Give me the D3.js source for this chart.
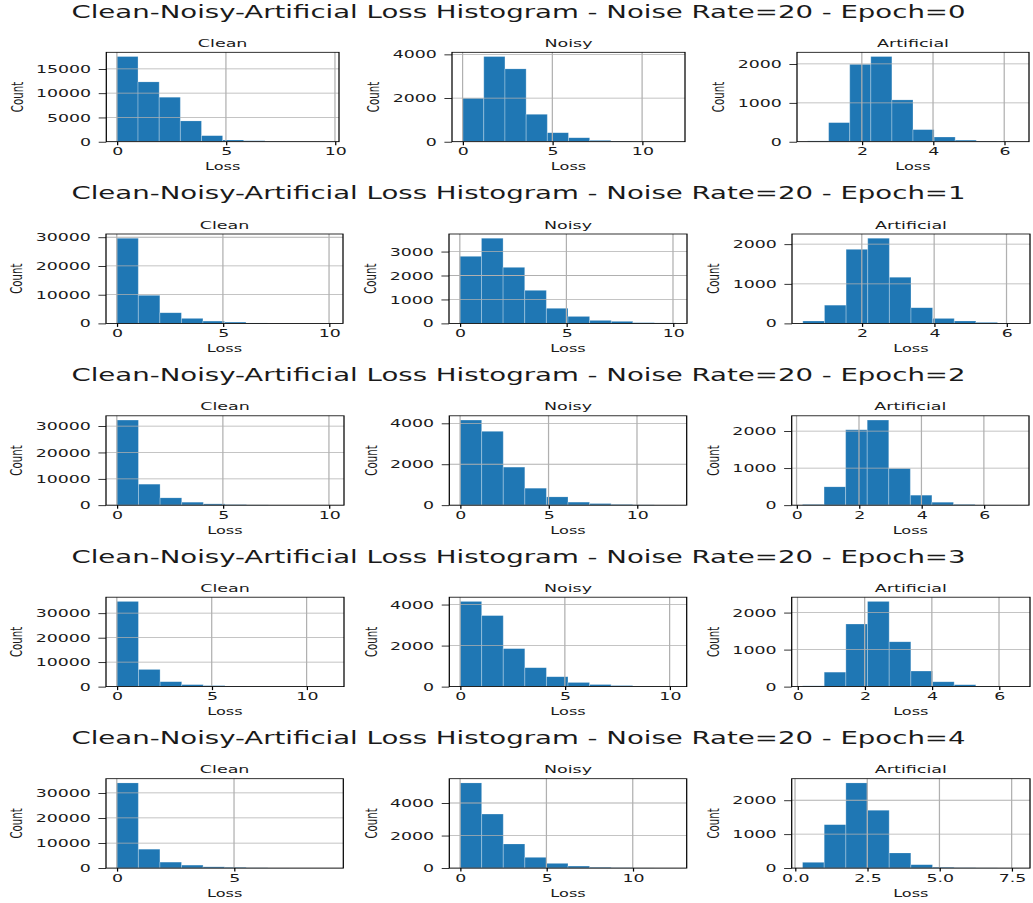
<!DOCTYPE html>
<html>
<head>
<meta charset="utf-8">
<script src="https://cdn.jsdelivr.net/npm/d3@7"></script>
<style>
  html, body { margin: 0; padding: 0; background: #fff; }
  svg { display: block; }
  text { font-family: "DejaVu Sans", sans-serif; fill: #1a1a1a; }
</style>
</head>
<body>
<svg id="chart" width="1033" height="903"></svg>
<script>
// ---- data ----
let epochs = [0, 1, 2, 3, 4];
let panels = ['Clean', 'Noisy', 'Artificial'];
let noiseRate = 20;

// [min, max] of the loss values per epoch, 10 equal bins between them
let cleanRange = [[0, 9.7], [0, 10.15], [0, 10.2], [0, 11.4], [0, 9.2]];
let noisyRange = [[0, 11.8], [0, 10.15], [0, 12.2], [0, 10.3], [0, 12.5]];
let artRange = [[0.475, 6.4], [0.37, 6.35], [0.19, 7.1], [0.15, 6.6], [0.26, 7.76]];

let cleanCounts = [
    [17560, 12330, 9170, 4280, 1240, 350, 200, 50, 20, 5],
    [29650, 9770, 3700, 1740, 800, 450, 150, 60, 20, 10],
    [32280, 7970, 2780, 1140, 500, 220, 100, 40, 15, 5],
    [34800, 7000, 2000, 800, 400, 200, 100, 40, 15, 5],
    [33970, 7540, 2380, 1190, 500, 300, 100, 40, 15, 5]
];
let noisyCounts = [
    [1990, 3900, 3335, 1255, 410, 180, 60, 30, 10, 5],
    [2800, 3555, 2340, 1380, 630, 290, 125, 85, 30, 20],
    [4160, 3610, 1860, 830, 405, 150, 80, 35, 15, 5],
    [4150, 3460, 1850, 920, 480, 200, 100, 50, 20, 10],
    [5230, 3320, 1480, 660, 290, 125, 50, 20, 8, 3]
];
let artCounts = [
    [20, 490, 1990, 2190, 1075, 310, 120, 40, 15, 5],
    [60, 460, 1870, 2150, 1165, 395, 125, 60, 25, 5],
    [20, 495, 2035, 2297, 990, 270, 80, 20, 5, 3],
    [20, 390, 1690, 2300, 1210, 420, 130, 50, 15, 5],
    [170, 1280, 2510, 1705, 445, 100, 25, 10, 5, 2]
];

// tick labels
let cleanXTicks = [[0, 5, 10], [0, 5, 10], [0, 5, 10], [0, 5, 10], [0, 5]];
let noisyXTicks = [[0, 5, 10], [0, 5, 10], [0, 5, 10], [0, 5, 10], [0, 5, 10]];
let artXTicks = [[2, 4, 6], [2, 4, 6], [0, 2, 4, 6], [0, 2, 4, 6], [0, 2.5, 5, 7.5]];
let cleanYTicks = [[0, 5000, 10000, 15000], [0, 10000, 20000, 30000], [0, 10000, 20000, 30000], [0, 10000, 20000, 30000], [0, 10000, 20000, 30000]];
let noisyYTicks = [[0, 2000, 4000], [0, 1000, 2000, 3000], [0, 2000, 4000], [0, 2000, 4000], [0, 2000, 4000]];
let artYTicks = [[0, 1000, 2000], [0, 1000, 2000], [0, 1000, 2000], [0, 1000, 2000], [0, 1000, 2000]];

// ---- layout (screen pixels) ----
let stretch = 1.55; // picture is wider than tall in its glyphs
let rowTop = [52.3, 234, 415.8, 597.2, 778.7];
let axH = 89.4;
let colLeft = [[106.3, 452, 797], [106, 449, 792], [106, 449.3, 791.7], [106, 449.3, 791.7], [106, 449.3, 791.7]];
let colRight = [[339, 685, 1029], [343, 687, 1030], [344, 686.7, 1029], [344, 686.7, 1030], [343.3, 686.7, 1030]];

let svg = d3.select('#chart');
let root = svg.append('g').attr('transform', 'scale(' + stretch + ',1)');

let ranges = [cleanRange, noisyRange, artRange];
let counts = [cleanCounts, noisyCounts, artCounts];
let xTicks = [cleanXTicks, noisyXTicks, artXTicks];
let yTicks = [cleanYTicks, noisyYTicks, artYTicks];

let fmtX = (ticks) => {
    let decimals = ticks.some((t) => t % 1 !== 0);
    return (d) => decimals ? d.toFixed(1) : String(d);
};

epochs.forEach((epoch, r) => {
    root.append('text')
        .attr('x', 518.5 / stretch)
        .attr('y', rowTop[r] - 34.5)
        .attr('text-anchor', 'middle')
        .attr('font-size', 17.8)
        .text('Clean-Noisy-Artificial Loss Histogram - Noise Rate=' + noiseRate + ' - Epoch=' + epoch);

    panels.forEach((name, c) => {
        let lo = ranges[c][r][0],
            hi = ranges[c][r][1],
            vals = counts[c][r],
            bw = (hi - lo) / vals.length,
            pad = (hi - lo) * 0.05,
            top = rowTop[r],
            bottom = rowTop[r] + axH,
            left = colLeft[r][c] / stretch,
            right = colRight[r][c] / stretch;

        let x = d3.scaleLinear().domain([lo - pad, hi + pad]).range([left, right]);
        let y = d3.scaleLinear().domain([0, d3.max(vals) * 1.05]).range([bottom, top]);

        let bins = vals.map((v, i) => ({ x0: lo + i * bw, x1: lo + (i + 1) * bw, n: v }));

        let g = root.append('g');

        g.selectAll('rect.bar')
            .data(bins)
            .join('rect')
            .attr('class', 'bar')
            .attr('x', (d) => x(d.x0))
            .attr('width', (d) => x(d.x1) - x(d.x0))
            .attr('y', (d) => y(d.n))
            .attr('height', (d) => y(0) - y(d.n))
            .attr('fill', '#1f77b4')
            .attr('stroke', '#ffffff')
            .attr('stroke-opacity', 0.3)
            .attr('stroke-width', 0.6);

        // grid (sits above the bars, like matplotlib)
        g.selectAll('line.vgrid')
            .data(xTicks[c][r])
            .join('line')
            .attr('x1', (d) => x(d)).attr('x2', (d) => x(d))
            .attr('y1', top).attr('y2', bottom)
            .attr('stroke', '#b0b0b0').attr('stroke-width', 0.8);
        g.selectAll('line.hgrid')
            .data(yTicks[c][r])
            .join('line')
            .attr('x1', left).attr('x2', right)
            .attr('y1', (d) => y(d)).attr('y2', (d) => y(d))
            .attr('stroke', '#b0b0b0').attr('stroke-width', 0.8);

        g.append('rect')
            .attr('x', left).attr('y', top)
            .attr('width', right - left).attr('height', axH)
            .attr('fill', 'none').attr('stroke', '#000').attr('stroke-width', 0.8);

        let xAxis = g.append('g')
            .attr('transform', 'translate(0,' + bottom + ')')
            .call(d3.axisBottom(x).tickValues(xTicks[c][r]).tickFormat(fmtX(xTicks[c][r]))
                .tickSize(3.5).tickPadding(2.2));
        let yAxis = g.append('g')
            .attr('transform', 'translate(' + left + ',0)')
            .call(d3.axisLeft(y).tickValues(yTicks[c][r]).tickFormat((d) => String(d))
                .tickSize(4.9).tickPadding(4.9));

        [xAxis, yAxis].forEach((ax) => {
            ax.select('.domain').remove();
            ax.selectAll('.tick line').attr('stroke', '#000').attr('stroke-width', 0.8);
            ax.selectAll('.tick text')
                .attr('font-size', 11.2)
                .attr('fill', '#1a1a1a')
                .style('font-family', '"DejaVu Sans", sans-serif');
        });

        g.append('text')
            .attr('x', (left + right) / 2)
            .attr('y', top - 5.3)
            .attr('text-anchor', 'middle')
            .attr('font-size', 11.3)
            .text(name);

        g.append('text')
            .attr('x', (left + right) / 2)
            .attr('y', bottom + 28.8)
            .attr('text-anchor', 'middle')
            .attr('font-size', 10.4)
            .text('Loss');

        // y label sits left of the widest tick label (bbox is in the axis group's frame)
        let labelBox = yAxis.node().getBBox();
        let cx = left + labelBox.x - 12.3,
            cy = (top + bottom) / 2;
        g.append('text')
            .attr('transform', 'translate(' + cx + ',' + cy + ') rotate(-90)')
            .attr('text-anchor', 'middle')
            .attr('dy', '0.36em')
            .attr('font-size', 10.2)
            .text('Count');
    });
});
</script>
</body>
</html>
